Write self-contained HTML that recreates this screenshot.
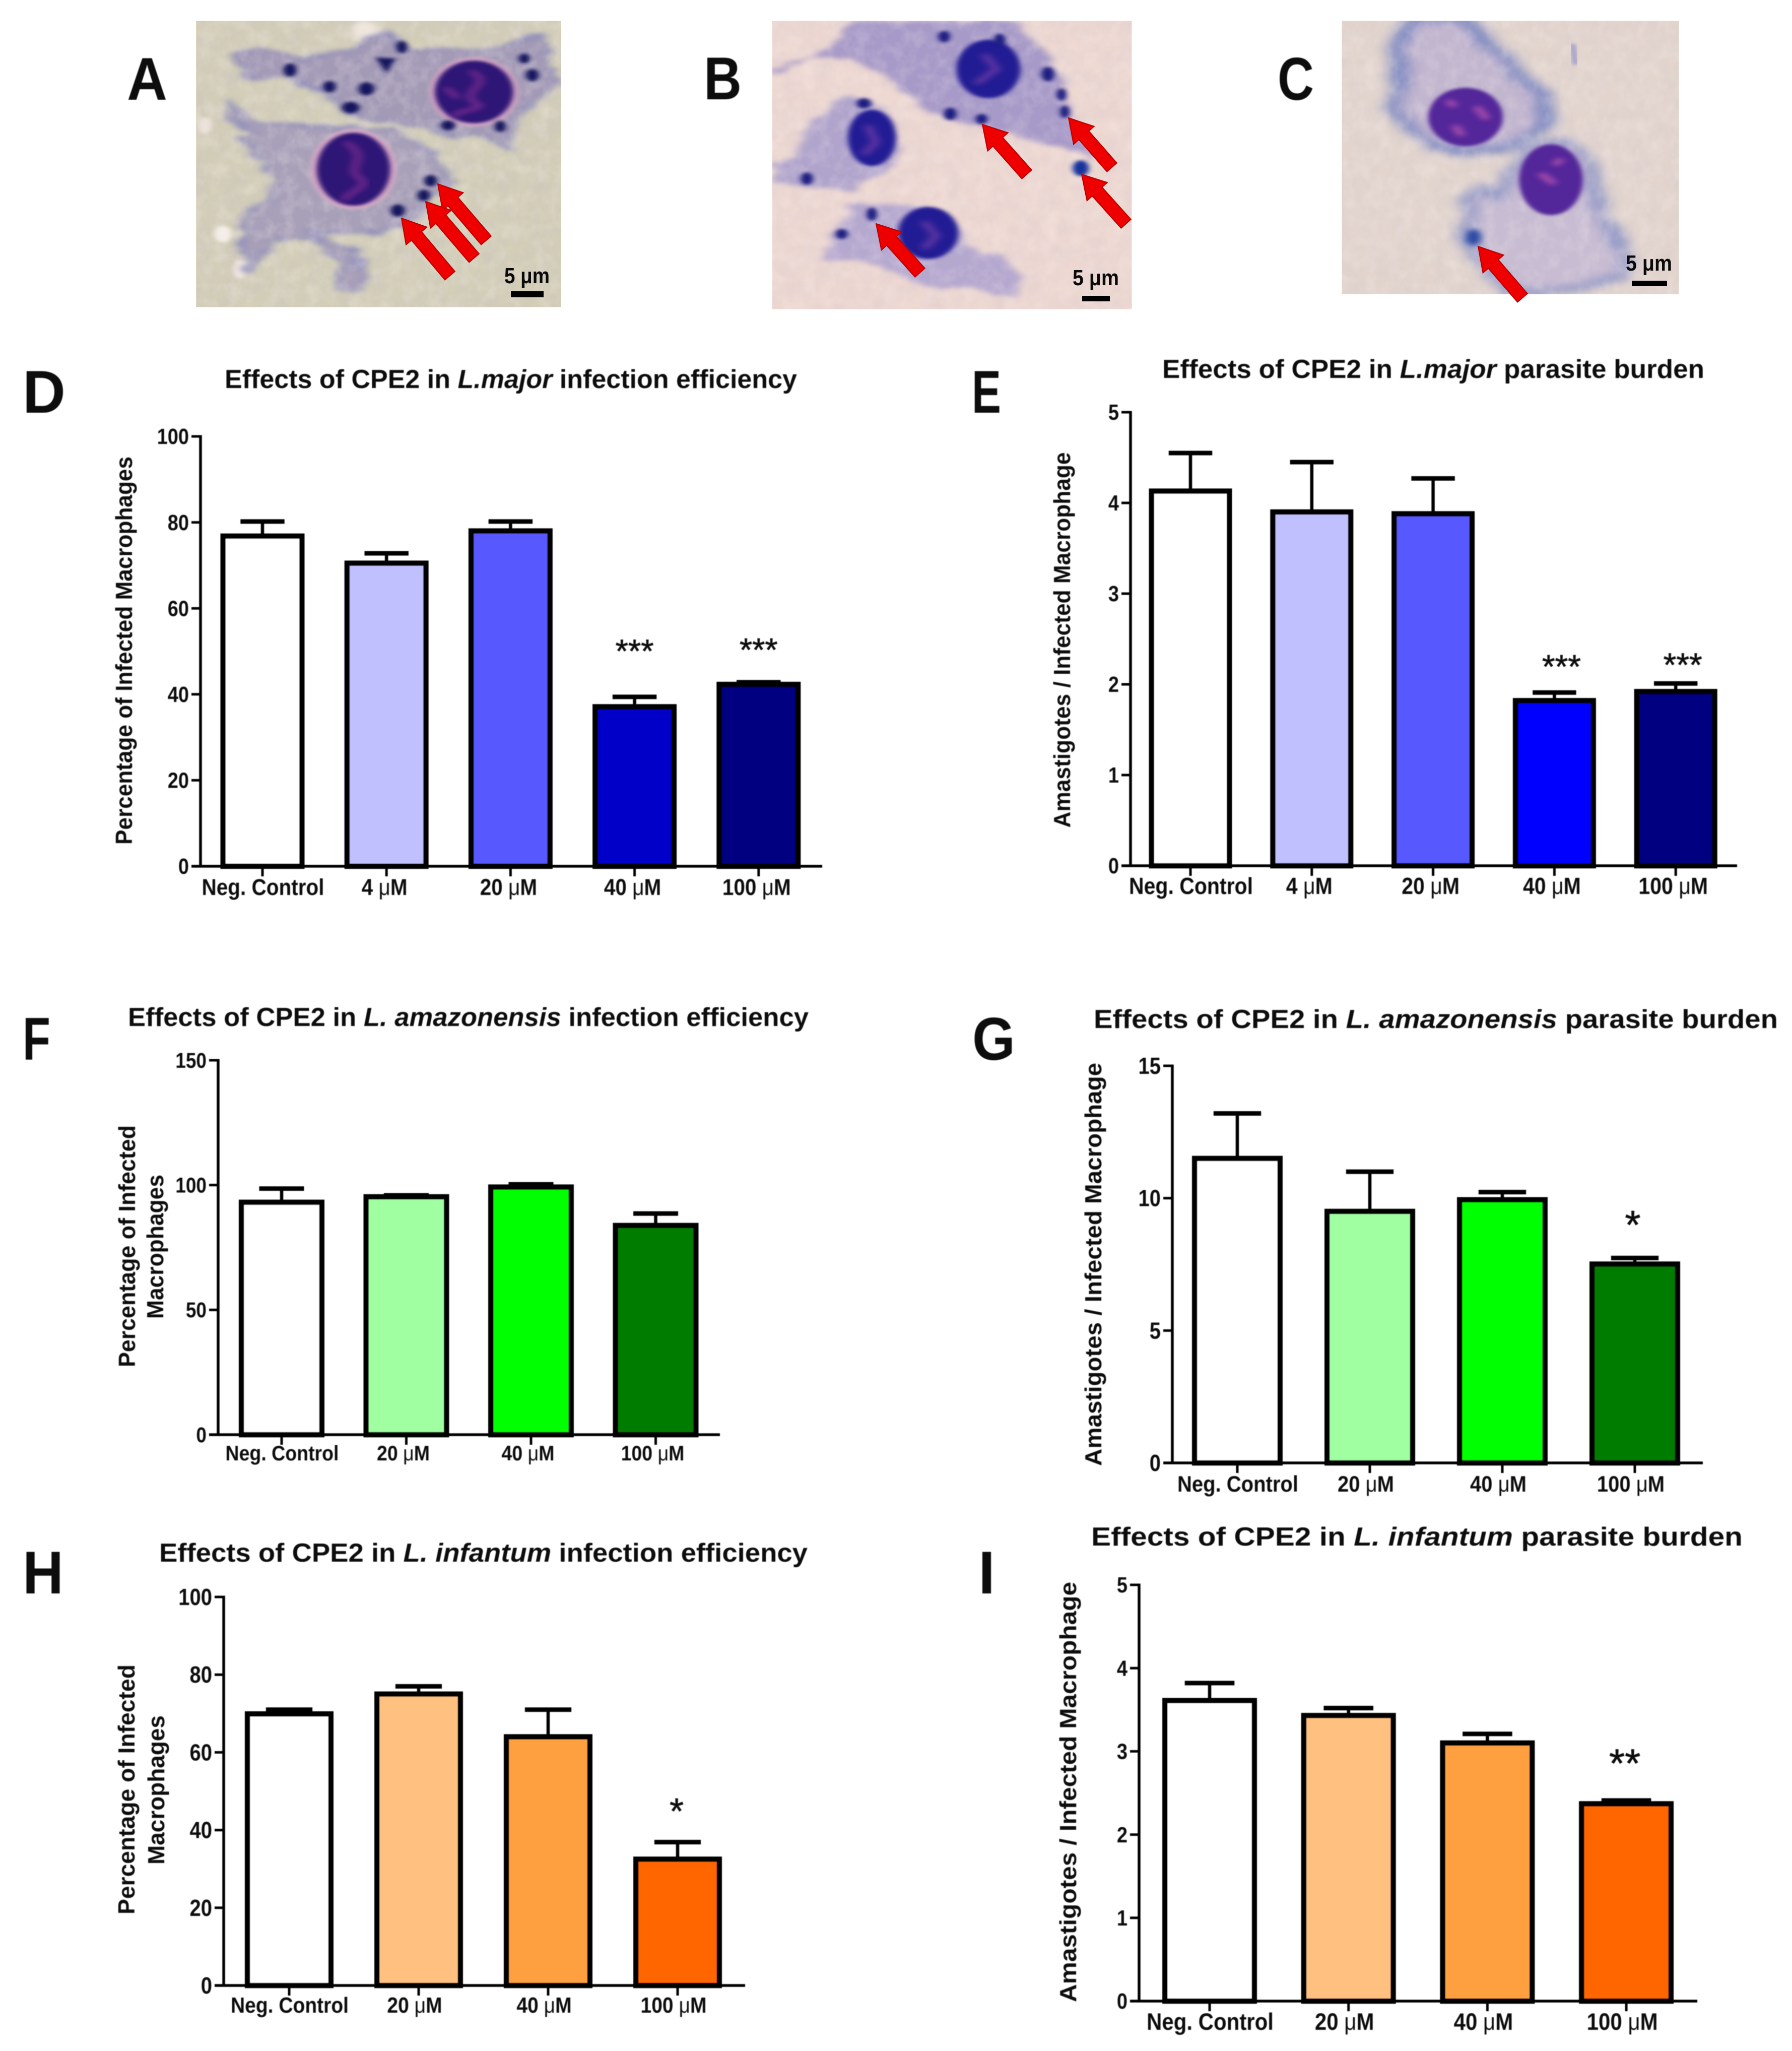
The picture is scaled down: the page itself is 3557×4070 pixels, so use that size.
<!DOCTYPE html>
<html lang="en">
<head>
<meta charset="utf-8">
<title>Effects of CPE2 on Leishmania infection</title>
<style>
html,body{margin:0;padding:0;background:#fff}
svg{display:block}
text{font-family:"Liberation Sans",sans-serif;fill:#0a0a0a}
</style>
</head>
<body>
<svg id="figure" xmlns="http://www.w3.org/2000/svg" width="3557" height="4070" viewBox="0 0 3557 4070">
<defs>
<filter id="soft" x="-20%" y="-20%" width="140%" height="140%"><feTurbulence type="fractalNoise" baseFrequency="0.02" numOctaves="3" seed="7" result="n"/><feDisplacementMap in="SourceGraphic" in2="n" scale="46" xChannelSelector="R" yChannelSelector="G"/><feGaussianBlur stdDeviation="11"/></filter>
<filter id="softWide" x="-20%" y="-20%" width="140%" height="140%"><feTurbulence type="fractalNoise" baseFrequency="0.015" numOctaves="2" seed="3" result="n"/><feDisplacementMap in="SourceGraphic" in2="n" scale="40" xChannelSelector="R" yChannelSelector="G"/><feGaussianBlur stdDeviation="20"/></filter>
<filter id="soft2" x="-40%" y="-40%" width="180%" height="180%"><feGaussianBlur stdDeviation="7"/></filter>
<filter id="streak" x="-40%" y="-40%" width="180%" height="180%"><feGaussianBlur stdDeviation="11"/></filter>
<filter id="sharpSoft" x="-2%" y="-2%" width="104%" height="104%"><feGaussianBlur stdDeviation="0.9"/></filter>
<filter id="mottle" x="0" y="0" width="100%" height="100%"><feTurbulence type="fractalNoise" baseFrequency="0.025 0.012" numOctaves="3" seed="4"/><feColorMatrix type="matrix" values="0 0 0 0 0.55  0 0 0 0 0.5  0 0 0 0 0.55  1.1 0 0 0 -0.38"/></filter>
<filter id="mottleLight" x="0" y="0" width="100%" height="100%"><feTurbulence type="fractalNoise" baseFrequency="0.03 0.014" numOctaves="3" seed="11"/><feColorMatrix type="matrix" values="0 0 0 0 1  0 0 0 0 0.92  0 0 0 0 0.92  1.4 0 0 0 -0.55"/></filter>
<clipPath id="clipA"><rect x="488" y="100" width="909" height="1370"/></clipPath>
<clipPath id="clipB"><rect x="292" y="100" width="895" height="1380"/></clipPath>
<clipPath id="clipC"><rect x="302" y="100" width="948" height="1308"/></clipPath>
</defs>
<rect width="3557" height="4070" fill="#fff"/>

<g transform="scale(0.7974,0.4146)">
 <g clip-path="url(#clipA)">
  <rect x="488" y="100" width="909" height="1370" fill="#d3ceb8"/>
  <rect x="488" y="100" width="909" height="1370" fill="#d9b9b8" filter="url(#mottle)" opacity=".45"/>
  <ellipse cx="910" cy="150" rx="35" ry="50" fill="#efe6dc" filter="url(#streak)"/>
  <ellipse cx="555" cy="1120" rx="22" ry="40" fill="#f4eee8" filter="url(#soft2)"/>
  <ellipse cx="598" cy="1290" rx="18" ry="45" fill="#f0e6e0" filter="url(#soft2)"/>
  <ellipse cx="510" cy="600" rx="18" ry="40" fill="#ece2da" filter="url(#soft2)"/>
  <path filter="url(#soft)" fill="#a39ab6" stroke="#8a88bb" stroke-width="12" d="M590 250 640 230 760 280 880 230 960 150 1010 230 1200 240 1350 170 1390 400 1300 520 1270 720 1200 650 1130 650 1000 590 870 550 800 430 700 370 620 370 590 300Z"/>
  <path filter="url(#soft)" fill="#a8a0b8" stroke="#8a88bb" stroke-width="12" d="M570 490 640 590 780 600 950 620 1040 680 1110 810 1130 880 1060 960 1040 1040 950 1110 770 1110 890 1200 910 1310 890 1400 840 1390 850 1250 780 1140 680 1150 620 1300 600 1180 610 1030 680 950 690 860 620 700 600 660 630 640 570 560Z"/>
  <rect x="488" y="100" width="909" height="1370" fill="#fff" filter="url(#mottleLight)" opacity=".35"/>
  <ellipse cx="1180" cy="440" rx="110" ry="165" fill="#d9a9c6" filter="url(#soft2)"/>
  <ellipse cx="1180" cy="440" rx="98" ry="150" fill="#2f1476" filter="url(#soft2)"/>
  <path d="M1170 340C1240 400 1130 440 1190 500 1210 520 1130 530 1130 560M1110 420 1140 470" fill="none" stroke="#7c2a92" stroke-width="16" filter="url(#streak)"/>
  <ellipse cx="880" cy="810" rx="106" ry="190" fill="#e0afc9" filter="url(#soft2)"/>
  <ellipse cx="880" cy="810" rx="92" ry="175" fill="#2f1476" filter="url(#soft2)"/>
  <path d="M860 680C930 760 850 800 900 860 920 900 850 930 860 960" fill="none" stroke="#7c2a92" stroke-width="16" filter="url(#streak)"/>
  <g fill="#16165e" filter="url(#soft2)">
   <ellipse cx="722" cy="335" rx="16" ry="32"/><path d="M935 275 985 280 962 350Z"/><ellipse cx="1000" cy="225" rx="14" ry="30"/><ellipse cx="820" cy="415" rx="16" ry="28"/><ellipse cx="912" cy="425" rx="20" ry="32"/><ellipse cx="873" cy="515" rx="22" ry="28"/><ellipse cx="1305" cy="280" rx="14" ry="24"/><ellipse cx="1325" cy="360" rx="16" ry="30"/><ellipse cx="1115" cy="600" rx="18" ry="24"/><ellipse cx="1245" cy="605" rx="14" ry="28"/><ellipse cx="1072" cy="865" rx="16" ry="28"/><ellipse cx="1055" cy="935" rx="16" ry="28"/><ellipse cx="990" cy="1008" rx="18" ry="30"/>
  </g>
 </g>
</g>

<g transform="translate(1300,0) scale(0.7974,0.4146)">
 <g clip-path="url(#clipB)">
  <rect x="292" y="100" width="895" height="1380" fill="#eed8d2"/>
  <rect x="292" y="100" width="895" height="1380" fill="#e4d2d2" filter="url(#mottle)" opacity=".35"/>
  <path filter="url(#soft)" fill="#a79ac8" d="M292 330 430 240 490 100 900 100 1000 330 1040 560 1100 770 1040 720 960 680 810 600 720 570 650 490 570 350 480 270 380 280 292 360Z"/>
  <path filter="url(#soft)" fill="#b0a4cc" d="M470 460 530 480 590 560 610 700 590 810 540 850 495 915 350 890 292 870 292 780 350 750 380 600Z"/>
  <path filter="url(#soft)" fill="#b5a8cf" d="M490 960 550 980 660 990 760 1100 780 1190 880 1220 910 1330 900 1430 800 1390 680 1380 590 1300 510 1240 420 1250 440 1130 470 1050Z"/>
  <rect x="292" y="100" width="895" height="1380" fill="#fff" filter="url(#mottleLight)" opacity=".3"/>
  <ellipse cx="830" cy="330" rx="80" ry="140" fill="#241a94" filter="url(#soft2)"/>
  <ellipse cx="540" cy="660" rx="60" ry="135" fill="#241a94" filter="url(#soft2)"/>
  <ellipse cx="680" cy="1115" rx="75" ry="125" fill="#241a94" filter="url(#soft2)"/>
  <path d="M820 260 850 330 800 400M530 600 550 680 520 740M670 1060 700 1130 670 1190" fill="none" stroke="#6f3aa8" stroke-width="16" filter="url(#streak)"/>
  <g fill="#1b1b80" filter="url(#soft2)">
   <ellipse cx="720" cy="175" rx="15" ry="28"/><ellipse cx="858" cy="190" rx="14" ry="30"/><ellipse cx="978" cy="355" rx="16" ry="35"/><ellipse cx="1012" cy="452" rx="12" ry="30"/><ellipse cx="1020" cy="535" rx="12" ry="30"/><ellipse cx="735" cy="545" rx="16" ry="30"/><ellipse cx="813" cy="570" rx="15" ry="25"/><ellipse cx="1060" cy="805" rx="20" ry="38" fill="#16309c"/><ellipse cx="520" cy="495" rx="18" ry="25"/><ellipse cx="378" cy="855" rx="15" ry="30"/><ellipse cx="540" cy="1025" rx="13" ry="32"/><ellipse cx="465" cy="1120" rx="15" ry="25"/>
  </g>
 </g>
</g>

<g transform="translate(2450,0) scale(0.7062,0.4146)">
 <g clip-path="url(#clipC)">
  <rect x="302" y="100" width="948" height="1308" fill="#e3d5ce"/>
  <rect x="302" y="100" width="948" height="1308" fill="#cfc9c9" filter="url(#mottle)" opacity=".3"/>
  <path filter="url(#softWide)" fill="#c2b6cf" stroke="#7e8ac2" stroke-width="44" d="M500 90 660 90 690 190 760 260 800 370 870 450 880 590 780 700 660 730 570 700 480 590 440 520 470 420 460 230Z"/>
  <path filter="url(#softWide)" fill="#c8bcd2" stroke="#8f97c7" stroke-width="36" d="M830 690 940 680 1000 780 1020 980 1060 1100 1100 1240 1090 1320 960 1380 850 1400 780 1400 680 1230 650 1130 670 1000 650 960 690 900 740 950Z"/>
  <rect x="302" y="100" width="948" height="1308" fill="#fff" filter="url(#mottleLight)" opacity=".3"/>
  <path d="M950 210 960 310" stroke="#a3a0c9" stroke-width="18" filter="url(#soft2)"/>
  <ellipse cx="650" cy="560" rx="105" ry="140" fill="#52279a" filter="url(#soft2)"/>
  <ellipse cx="890" cy="860" rx="90" ry="170" fill="#52279a" filter="url(#soft2)"/>
  <path d="M680 510 710 570M620 600 640 650M860 830 900 880M600 480 620 510M920 760 900 790" fill="none" stroke="#a44bab" stroke-width="24" filter="url(#streak)"/>
  <ellipse cx="672" cy="1135" rx="22" ry="40" fill="#2a4aa4" filter="url(#streak)"/>
 </g>
</g>
<g id="arrows"></g>

<g>
 <text x="1001" y="562" font-size="44" font-weight="700" textLength="90" lengthAdjust="spacingAndGlyphs">5 μm</text>
 <rect x="1014" y="578" width="65" height="12" fill="#000"/>
 <text x="2129" y="566" font-size="44" font-weight="700" textLength="92" lengthAdjust="spacingAndGlyphs">5 μm</text>
 <rect x="2148" y="587" width="55" height="11" fill="#000"/>
 <text x="3227" y="537" font-size="44" font-weight="700" textLength="92" lengthAdjust="spacingAndGlyphs">5 μm</text>
 <rect x="3239" y="557" width="70" height="11" fill="#000"/>
</g>

<g font-size="120" font-weight="700" filter="url(#sharpSoft)">
 <text x="252" y="198" textLength="80" lengthAdjust="spacingAndGlyphs">A</text>
 <text x="1397" y="197" textLength="75" lengthAdjust="spacingAndGlyphs">B</text>
 <text x="2536" y="198" textLength="72" lengthAdjust="spacingAndGlyphs">C</text>
 <text x="45" y="819" textLength="85" lengthAdjust="spacingAndGlyphs">D</text>
 <text x="1929" y="819" textLength="58" lengthAdjust="spacingAndGlyphs">E</text>
 <text x="45" y="2103" textLength="55" lengthAdjust="spacingAndGlyphs">F</text>
 <text x="1930" y="2103" textLength="85" lengthAdjust="spacingAndGlyphs">G</text>
 <text x="45" y="3162" textLength="81" lengthAdjust="spacingAndGlyphs">H</text>
 <text x="1942" y="3162" textLength="33" lengthAdjust="spacingAndGlyphs">I</text>
</g>
<g id="charts" filter="url(#sharpSoft)"></g>
</svg>

<script>
// ---------- chart data ----------
const dCategories = ['Neg. Control', '4 μM', '20 μM', '40 μM', '100 μM'];
const dValues = [76.8, 70.5, 78, 37.1, 42.3];
const dErrorTops = [80.2, 72.8, 80.2, 39.4, 42.8];
const dTicks = [0, 20, 40, 60, 80, 100];
const dStars = ['', '', '', '***', '***'];
const dStarLevels = [0, 0, 0, 51.8, 52.1];
const dColors = ['#ffffff', '#c0c0ff', '#5858ff', '#0000c8', '#000080'];

const eCategories = ['Neg. Control', '4 μM', '20 μM', '40 μM', '100 μM'];
const eValues = [4.13, 3.9, 3.88, 1.82, 1.92];
const eErrorTops = [4.55, 4.45, 4.27, 1.91, 2.01];
const eTicks = [0, 1, 2, 3, 4, 5];
const eStars = ['', '', '', '***', '***'];
const eStarLevels = [0, 0, 0, 2.28, 2.3];
const eColors = ['#ffffff', '#c0c0ff', '#5858ff', '#0000ff', '#000080'];

const fCategories = ['Neg. Control', '20 μM', '40 μM', '100 μM'];
const fValues = [93.1, 95.3, 99.2, 83.8];
const fErrorTops = [98.6, 95.9, 100.3, 88.6];
const fTicks = [0, 50, 100, 150];
const fStars = ['', '', '', ''];
const fStarLevels = [0, 0, 0, 0];
const fColors = ['#ffffff', '#a0ffa0', '#00ff00', '#007d00'];

const gCategories = ['Neg. Control', '20 μM', '40 μM', '100 μM'];
const gValues = [11.5, 9.5, 9.94, 7.51];
const gErrorTops = [13.2, 11.0, 10.23, 7.74];
const gTicks = [0, 5, 10, 15];
const gStars = ['', '', '', '*'];
const gStarLevels = [0, 0, 0, 9.35];
const gColors = ['#ffffff', '#a0ffa0', '#00ff00', '#007d00'];

const hCategories = ['Neg. Control', '20 μM', '40 μM', '100 μM'];
const hValues = [69.9, 75, 64, 32.5];
const hErrorTops = [71, 77, 71, 36.9];
const hTicks = [0, 20, 40, 60, 80, 100];
const hStars = ['', '', '', '*'];
const hStarLevels = [0, 0, 0, 47];
const hColors = ['#ffffff', '#ffc080', '#ffa040', '#ff6600'];

const iCategories = ['Neg. Control', '20 μM', '40 μM', '100 μM'];
const iValues = [3.61, 3.43, 3.1, 2.37];
const iErrorTops = [3.82, 3.52, 3.21, 2.41];
const iTicks = [0, 1, 2, 3, 4, 5];
const iStars = ['', '', '', '**'];
const iStarLevels = [0, 0, 0, 2.97];
const iColors = ['#ffffff', '#ffc080', '#ffa040', '#ff6600'];

// ---------- layout (chart frames, independent of the data) ----------
const SVGNS = 'http://www.w3.org/2000/svg';
const chartsLayer = document.getElementById('charts');
const arrowsLayer = document.getElementById('arrows');
const BAR_STROKE = 10.5;

function node(tag, attrs, parent) {
  const el = document.createElementNS(SVGNS, tag);
  for (const k in attrs) el.setAttribute(k, attrs[k]);
  parent.appendChild(el);
  return el;
}

// keep the measured width but make the glyphs taller, like the condensed raster labels
function condense(t, fontSize, factor) {
  const w = t.getComputedTextLength();
  t.setAttribute('font-size', fontSize * factor);
  t.setAttribute('textLength', w);
  t.setAttribute('lengthAdjust', 'spacingAndGlyphs');
}

function drawChart(id, data, f) {
  const g = node('g', {}, chartsLayer);
  
  

  const yMax = data.ticks[data.ticks.length - 1];
  const yOf = v => f.y0 - (v / yMax) * (f.y0 - f.yTop);
  const xOf = i => f.cx0 + i * f.step;
  const capW = f.barW * 0.53;
  const barW = f.barW + 2;

  // title
  const title = node('text', {x: f.titleX, y: f.titleY, 'font-size': 52, 'font-weight': 700, textLength: f.titleW, lengthAdjust: 'spacingAndGlyphs'}, g);
  
  
  title.appendChild(document.createTextNode(data.title[0]));
  const sp = node('tspan', {'font-style': 'italic'}, title);
  sp.textContent = data.title[1];
  title.appendChild(document.createTextNode(data.title[2]));

  // y axis title (one or two lines)
  data.yLines.forEach((line, n) => {
    const t = node('text', {'font-size': 46, 'font-weight': 700, 'text-anchor': 'middle', textLength: f.yLab[n].len, lengthAdjust: 'spacingAndGlyphs', transform: 'translate(' + f.yLab[n].x + ',' + f.yLab[n].mid + ') rotate(-90)'}, g);
    
    
    t.textContent = line;
  });

  // error bars first, bars on top
  data.values.forEach((v, i) => {
    const x = xOf(i);
    const stem = node('line', {x1: x, x2: x, y1: yOf(v), y2: yOf(data.errors[i]), stroke: '#000', 'stroke-width': 6.5}, g);
    
    
    const cap = node('line', {x1: x - capW / 2, x2: x + capW / 2, y1: yOf(data.errors[i]), y2: yOf(data.errors[i]), stroke: '#000', 'stroke-width': 9}, g);
    
    
  });

  data.values.forEach((v, i) => {
    const x = xOf(i);
    const bar = node('rect', {x: x - barW / 2 + BAR_STROKE / 2, y: yOf(v), width: barW - BAR_STROKE, height: f.y0 - yOf(v), fill: data.colors[i], stroke: '#000', 'stroke-width': BAR_STROKE}, g);
    
    

    const tick = node('line', {x1: x, x2: x, y1: f.y0, y2: f.y0 + 20, stroke: '#000', 'stroke-width': 5}, g);
    
    

    const label = data.categories[i];
    const lx = x + (i === 0 ? 1 : f.labelDx);
    const t = node('text', {x: lx, y: f.catY, 'font-size': f.catFont, 'font-weight': 700, 'text-anchor': 'middle'}, g);
    
    
    if (label.indexOf('μ') >= 0) {
      const parts = label.split('μ');
      t.appendChild(document.createTextNode(parts[0]));
      const mu = node('tspan', {'font-weight': 400}, t);
      mu.textContent = 'μ';
      t.appendChild(document.createTextNode(parts[1]));
    } else {
      t.textContent = label;
    }
    condense(t, f.catFont, 1.12);

    if (data.stars[i]) {
      const s = node('text', {x: x + f.starDx, y: yOf(data.starLevels[i]) + 0.575 * f.starFont, 'font-size': f.starFont, 'text-anchor': 'middle', stroke: '#0a0a0a', 'stroke-width': 0.8}, g);
      
      
      s.textContent = data.stars[i];
    }
  });

  // axes
  data.ticks.forEach(v => {
    const ty = yOf(v);
    const tick = node('line', {x1: f.axisX - 18, x2: f.axisX, y1: ty, y2: ty, stroke: '#000', 'stroke-width': 5}, g);
    
    
    const t = node('text', {x: f.axisX - 23, y: ty + f.tickFont * 0.4, 'font-size': f.tickFont, 'font-weight': 700, 'text-anchor': 'end'}, g);
    
    
    t.textContent = String(v);
    condense(t, f.tickFont, 1.15);
  });
  const yAxis = node('line', {x1: f.axisX, x2: f.axisX, y1: f.yTop - 2.5, y2: f.y0 + 2.5, stroke: '#000', 'stroke-width': 5.5}, g);
  
  
  const xAxis = node('line', {x1: f.axisX - 18, x2: f.xEnd, y1: f.y0, y2: f.y0, stroke: '#000', 'stroke-width': 5.5}, g);
  
  
}

drawChart('d', {categories: dCategories, values: dValues, errors: dErrorTops, ticks: dTicks, stars: dStars, starLevels: dStarLevels, colors: dColors,
  title: ['Effects of CPE2 in ', 'L.major', ' infection efficiency'], yLines: ['Percentage of Infected Macrophages']},
  {axisX: 398, xEnd: 1632, y0: 1719, yTop: 866, cx0: 521, step: 246.2, barW: 165, labelDx: -4, catY: 1776, catFont: 40.5, tickFont: 38, starFont: 65, starDx: 0,
   titleX: 446, titleY: 770, titleW: 1136, yLab: [{x: 262, mid: 1291, len: 770}]});

drawChart('e', {categories: eCategories, values: eValues, errors: eErrorTops, ticks: eTicks, stars: eStars, starLevels: eStarLevels, colors: eColors,
  title: ['Effects of CPE2 in ', 'L.major', ' parasite burden'], yLines: ['Amastigotes / Infected Macrophage']},
  {axisX: 2244, xEnd: 3448, y0: 1718, yTop: 818, cx0: 2363, step: 240.8, barW: 163, labelDx: -5, catY: 1774, catFont: 41, tickFont: 38, starFont: 66, starDx: 14,
   titleX: 2307, titleY: 750, titleW: 1076, yLab: [{x: 2124, mid: 1270, len: 745}]});

drawChart('f', {categories: fCategories, values: fValues, errors: fErrorTops, ticks: fTicks, stars: fStars, starLevels: fStarLevels, colors: fColors,
  title: ['Effects of CPE2 in ', 'L. amazonensis', ' infection efficiency'], yLines: ['Percentage of Infected', 'Macrophages']},
  {axisX: 433, xEnd: 1429, y0: 2847, yTop: 2104, cx0: 559, step: 247.5, barW: 168, labelDx: -6, catY: 2898, catFont: 37.5, tickFont: 37, starFont: 65, starDx: 0,
   titleX: 254, titleY: 2036, titleW: 1351, yLab: [{x: 268, mid: 2473, len: 480}, {x: 324, mid: 2474, len: 286}]});

drawChart('g', {categories: gCategories, values: gValues, errors: gErrorTops, ticks: gTicks, stars: gStars, starLevels: gStarLevels, colors: gColors,
  title: ['Effects of CPE2 in ', 'L. amazonensis', ' parasite burden'], yLines: ['Amastigotes / Infected Macrophage']},
  {axisX: 2327, xEnd: 3380, y0: 2903, yTop: 2115, cx0: 2456, step: 263, barW: 178, labelDx: -8, catY: 2960, catFont: 40, tickFont: 40, starFont: 80, starDx: -4,
   titleX: 2171, titleY: 2040, titleW: 1358, yLab: [{x: 2186, mid: 2509, len: 800}]});

drawChart('h', {categories: hCategories, values: hValues, errors: hErrorTops, ticks: hTicks, stars: hStars, starLevels: hStarLevels, colors: hColors,
  title: ['Effects of CPE2 in ', 'L. infantum', ' infection efficiency'], yLines: ['Percentage of Infected', 'Macrophages']},
  {axisX: 444, xEnd: 1479, y0: 3940, yTop: 3169, cx0: 574, step: 257, barW: 174, labelDx: -8, catY: 3994, catFont: 39, tickFont: 40, starFont: 72, starDx: -2,
   titleX: 316, titleY: 3099, titleW: 1287, yLab: [{x: 267, mid: 3551, len: 496}, {x: 326, mid: 3552, len: 296}]});

drawChart('i', {categories: iCategories, values: iValues, errors: iErrorTops, ticks: iTicks, stars: iStars, starLevels: iStarLevels, colors: iColors,
  title: ['Effects of CPE2 in ', 'L. infantum', ' parasite burden'], yLines: ['Amastigotes / Infected Macrophage']},
  {axisX: 2261, xEnd: 3369, y0: 3971, yTop: 3145, cx0: 2401, step: 275.7, barW: 186, labelDx: -8, catY: 4028, catFont: 42, tickFont: 38, starFont: 80, starDx: -3,
   titleX: 2166, titleY: 3067, titleW: 1293, yLab: [{x: 2136, mid: 3556, len: 834}]});

// ---------- red arrows on the micrographs ----------
function drawArrow(tipX, tipY, tailX, tailY) {
  const dx = tailX - tipX, dy = tailY - tipY, len = Math.hypot(dx, dy);
  const ux = dx / len, uy = dy / len, nx = -uy, ny = ux;
  const head = 46, headW = 27, shaftW = 13;
  const p = [
    [tipX, tipY],
    [tipX + ux * head + nx * headW, tipY + uy * head + ny * headW],
    [tipX + ux * head + nx * shaftW, tipY + uy * head + ny * shaftW],
    [tailX + nx * shaftW, tailY + ny * shaftW],
    [tailX - nx * shaftW, tailY - ny * shaftW],
    [tipX + ux * head - nx * shaftW, tipY + uy * head - ny * shaftW],
    [tipX + ux * head - nx * headW, tipY + uy * head - ny * headW]
  ];
  const el = node('polygon', {points: p.map(q => q.join(',')).join(' '), fill: '#ee0000', stroke: '#b80000', 'stroke-width': 2}, arrowsLayer);
  
  
}
drawArrow(869, 365, 965, 477);
drawArrow(845, 400, 941, 512);
drawArrow(797, 433, 893, 547);
drawArrow(1950, 247, 2038, 346);
drawArrow(2121, 234, 2207, 332);
drawArrow(2147, 346, 2235, 444);
drawArrow(1739, 444, 1826, 541);
drawArrow(2934, 489, 3022, 591);
</script>
</body>
</html>
